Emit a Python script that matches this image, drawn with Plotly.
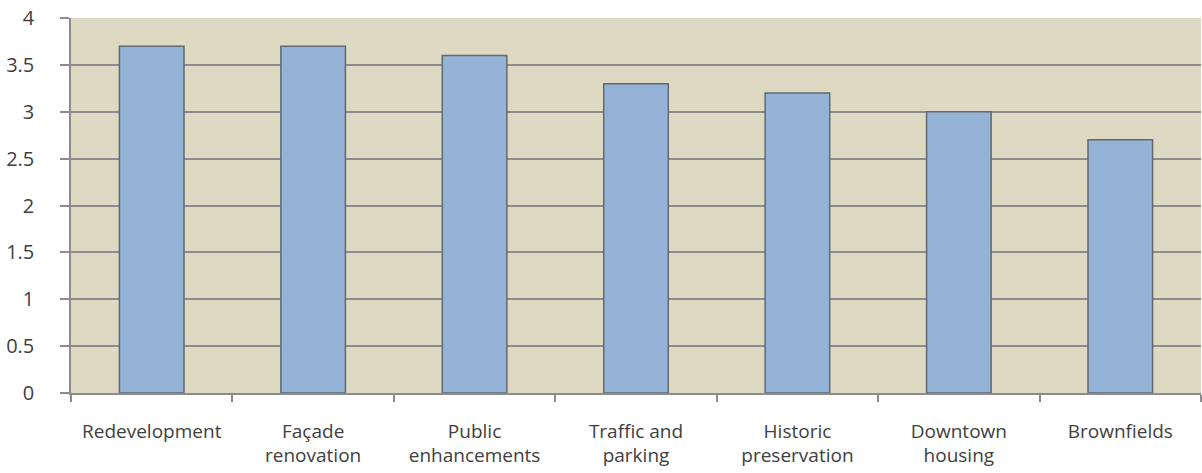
import plotly.graph_objects as go

categories = ["Redevelopment", "Façade<br>renovation", "Public<br>enhancements",
              "Traffic and<br>parking", "Historic<br>preservation",
              "Downtown<br>housing", "Brownfields"]
values = [3.7, 3.7, 3.6, 3.3, 3.2, 3.0, 2.7]
y_ticks = [0, 0.5, 1, 1.5, 2, 2.5, 3, 3.5, 4]
y_tick_text = ["0", "0.5", "1", "1.5", "2", "2.5", "3", "3.5", "4"]

fig = go.Figure(go.Bar(
    x=categories, y=values, width=0.4,
    marker=dict(color="#95B3D7", line=dict(color="#606870", width=1.5)),
))

fig.update_layout(
    width=1202, height=473,
    margin=dict(l=71, r=1, t=18, b=80),
    paper_bgcolor="white", plot_bgcolor="#DDD9C3",
    showlegend=False, bargap=0.6,
    font=dict(family="Open Sans", color="#404040"),
)
fig.update_yaxes(
    range=[0, 4], tickvals=y_ticks, ticktext=y_tick_text,
    showgrid=True, gridcolor="#8C8C8C", gridwidth=1.5,
    showline=True, linecolor="#8C8C8C", linewidth=1.5,
    ticks="outside", ticklen=9, tickcolor="#8C8C8C", tickwidth=1.5,
    tickfont=dict(size=20, color="#404040"), zeroline=False,
    automargin=False, ticklabelstandoff=22,
)
fig.update_xaxes(
    showline=True, linecolor="#8C8C8C", linewidth=1.5,
    ticks="outside", ticklen=7, tickcolor="#8C8C8C", tickwidth=1.5,
    tickson="boundaries", showgrid=False,
    tickfont=dict(size=19, color="#404040"), tickangle=0,
    automargin=False, ticklabelstandoff=20,
)

fig.write_html("out.html")
